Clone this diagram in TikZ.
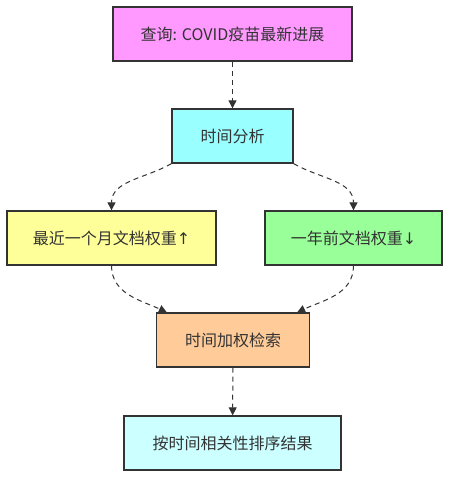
\documentclass[tikz,border=0pt]{standalone}
\usepackage{fontspec}
\setmainfont{Noto Sans CJK SC}
\newfontfamily\arrowfont{DejaVu Sans}
\usetikzlibrary{arrows.meta}
\definecolor{querypink}{HTML}{FF99FF}
\definecolor{timecyan}{HTML}{99FFFF}
\definecolor{recentyellow}{HTML}{FFFF99}
\definecolor{oldgreen}{HTML}{99FF99}
\definecolor{fuseorange}{HTML}{FFCC99}
\definecolor{resultcyan}{HTML}{CCFFFF}
\definecolor{linegray}{HTML}{333333}
\begin{document}
\begin{tikzpicture}[x=1pt,y=-1pt,
    box/.style={draw=linegray, line width=1.3pt, minimum height=54pt, inner sep=0pt,
        text=linegray, font=\fontsize{16}{19}\selectfont},
    flow/.style={draw=linegray, line width=1pt, dash pattern=on 5pt off 4pt,
        -{Triangle[length=8pt,width=8pt]}}]
    \useasboundingbox (0,0) rectangle (458,486);
    % Query and time split
    \node[box, fill=querypink, minimum width=239pt] (query) at (232.5,34) {查询: COVID疫苗最新进展};
    \node[box, fill=timecyan, minimum width=121pt] (time) at (232.5,136) {时间分析};
    \node[box, fill=recentyellow, minimum width=209pt] (recent) at (111.5,238) {最近一个月文档权重{\arrowfont ↑}};
    \node[box, fill=oldgreen, minimum width=177pt] (old) at (353.5,238) {一年前文档权重{\arrowfont ↓}};
    \node[box, fill=fuseorange, minimum width=153pt] (fuse) at (233,340) {时间加权检索};
    \node[box, fill=resultcyan, minimum width=217pt] (result) at (232.5,443) {按时间相关性排序结果};
    % Connectors
    \draw[flow] (query) -- (time);
    \draw[flow] (time.south west) to[out=210,in=90] (recent.north);
    \draw[flow] (time.south east) to[out=-30,in=90] (old.north);
    \draw[flow] (recent.south) to[out=-90,in=155] ([xshift=11pt]fuse.north west);
    \draw[flow] (old.south) to[out=-90,in=25] ([xshift=-13pt]fuse.north east);
    \draw[flow] (fuse) -- (result);
\end{tikzpicture}
\end{document}
